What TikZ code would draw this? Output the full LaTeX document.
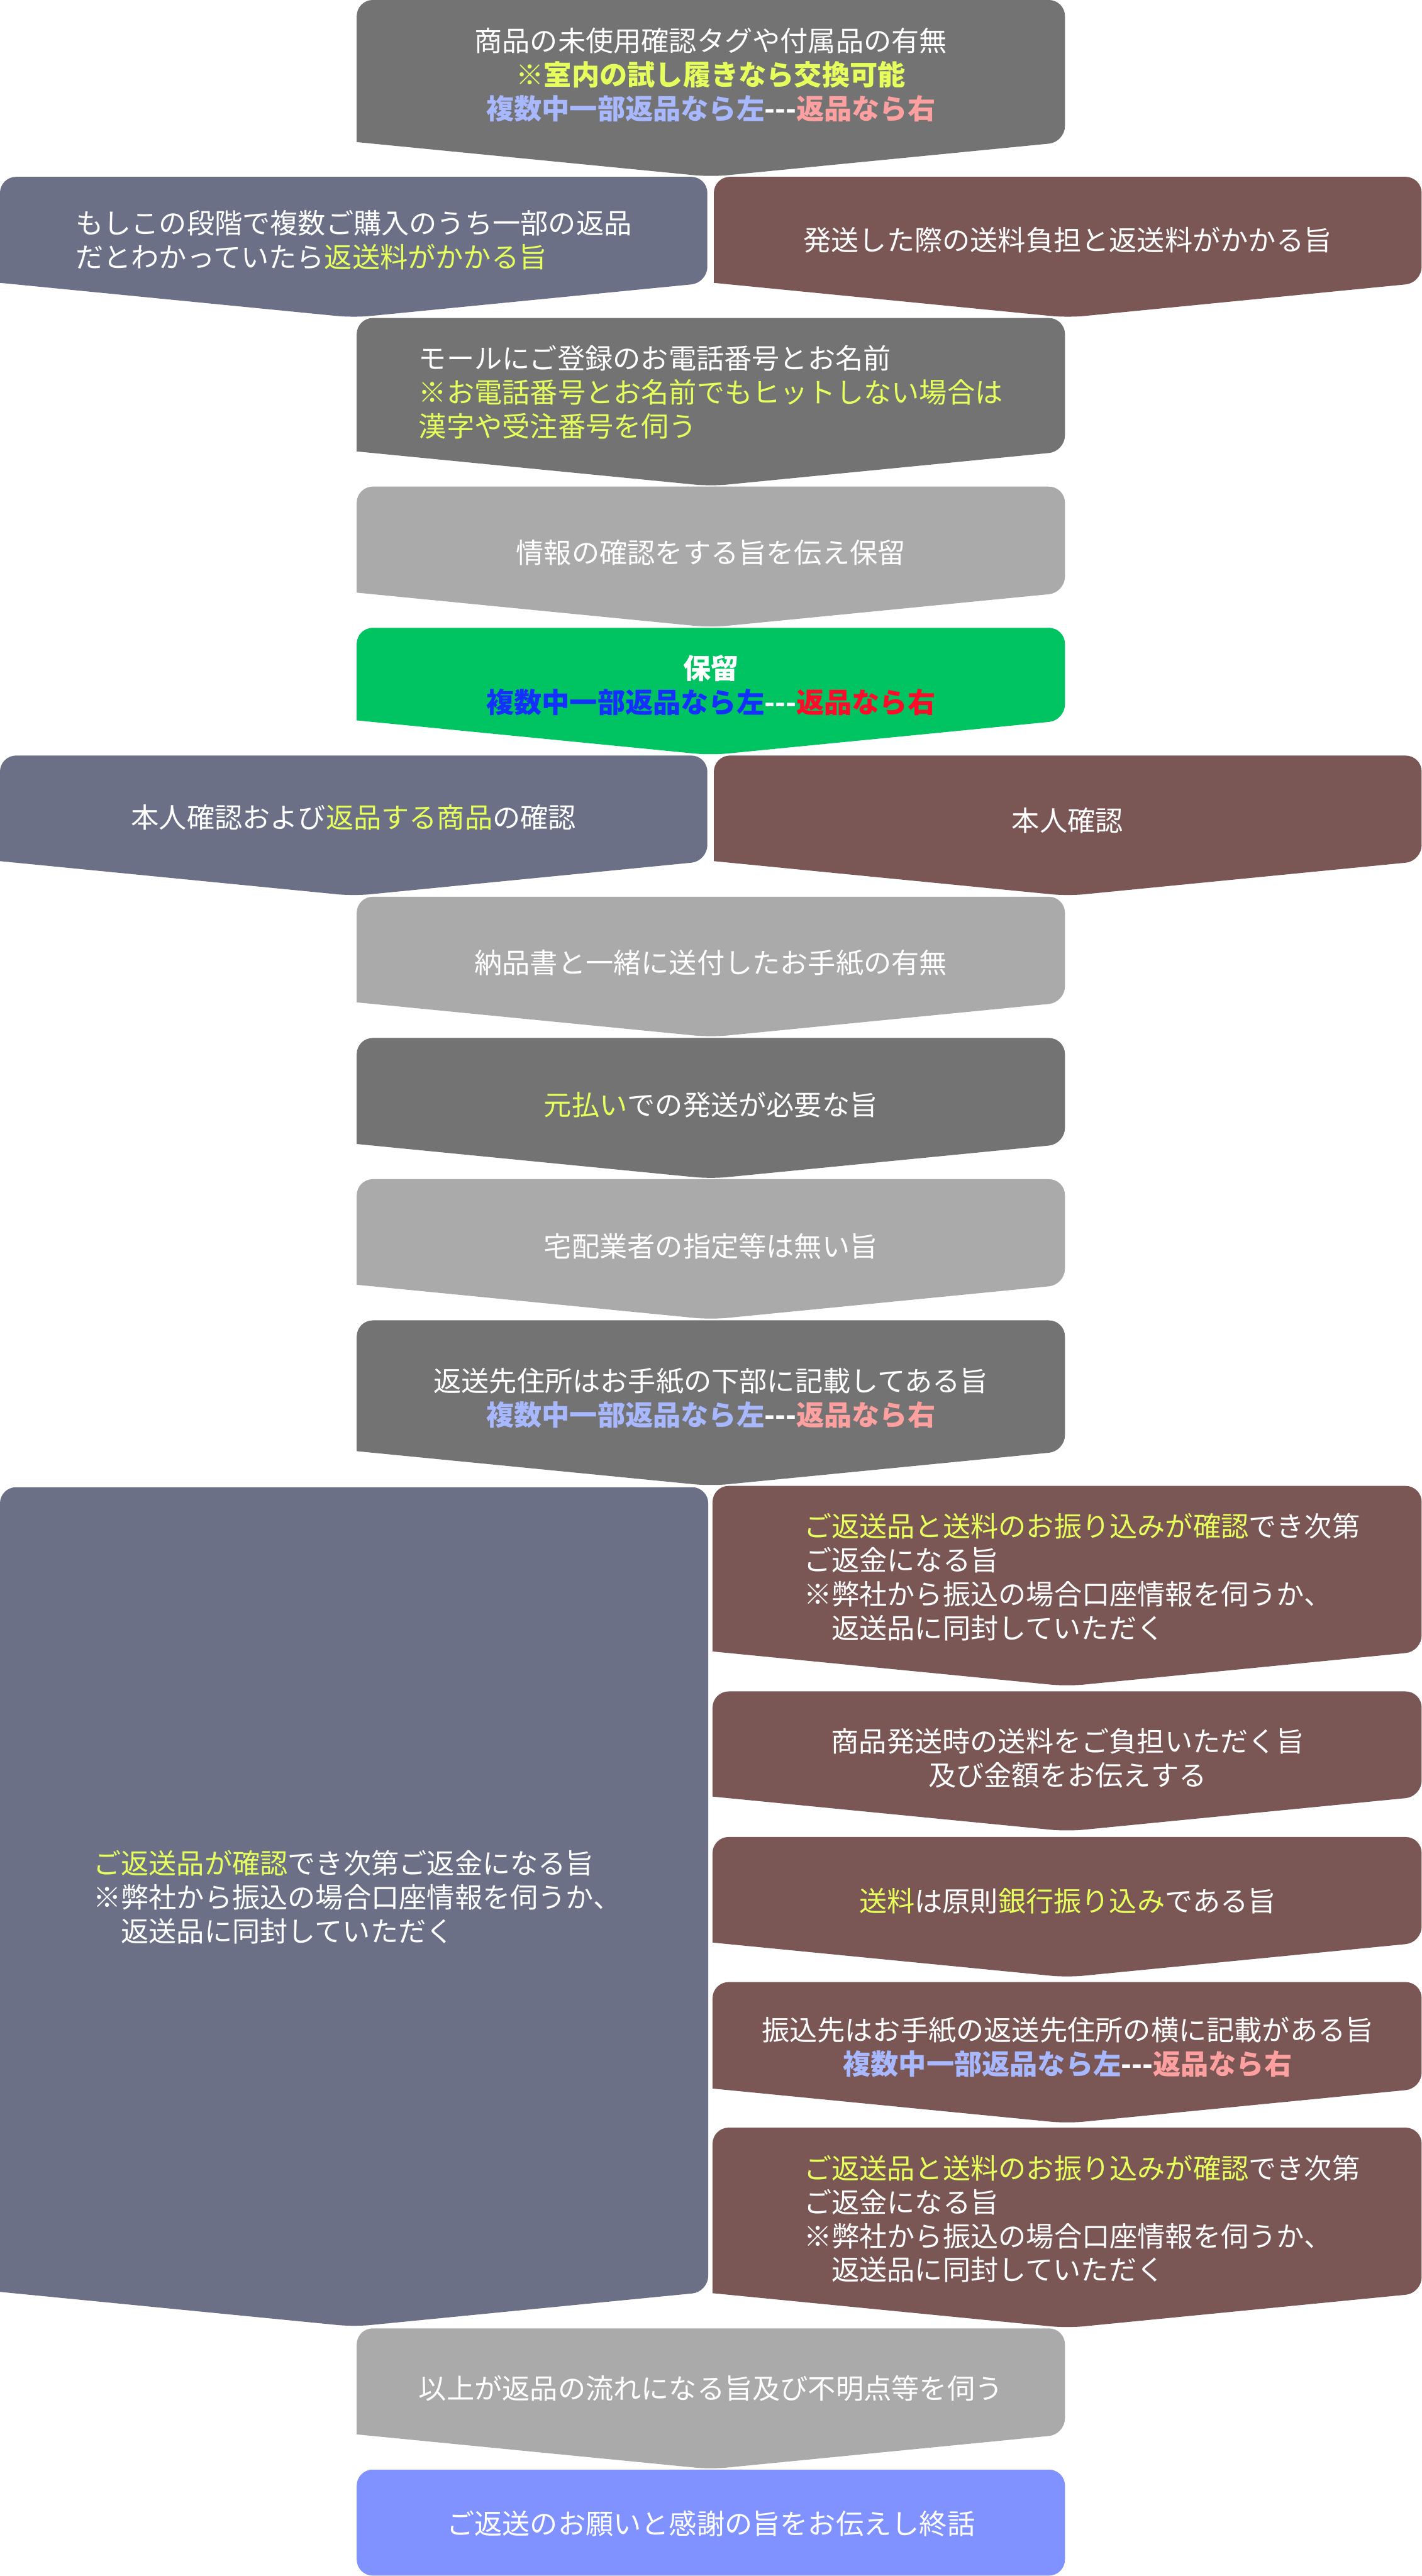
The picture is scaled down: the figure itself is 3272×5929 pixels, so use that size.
\documentclass[tikz,border=0pt]{standalone}
\usepackage{fontspec}
\newfontfamily\jpfont{Noto Sans CJK JP}
\definecolor{cDark}{HTML}{737373}
\definecolor{cLight}{HTML}{AAAAAA}
\definecolor{cSlate}{HTML}{6B7087}
\definecolor{cBrown}{HTML}{7A5655}
\definecolor{cGreen}{HTML}{00C462}
\definecolor{cBlue}{HTML}{7F92FF}
\definecolor{tYellow}{HTML}{E6FF5C}
\definecolor{tLBlue}{HTML}{A8B8FF}
\definecolor{tPink}{HTML}{FFA0A0}
\definecolor{tBlue}{HTML}{1430FF}
\definecolor{tRed}{HTML}{FF0A28}
\tikzset{
  txt/.style={text=white, font=\jpfont\fontsize{12.8pt}{15.6pt}\selectfont, align=center, inner sep=0pt},
  txtl/.style={txt, align=left},
}
% #1 fill, #2 x0, #3 x1, #4 top, #5 tip
\newcommand{\chevshape}[5]{%
  \fill[#1] ({(#2+#3)/2},#4) [rounded corners=7.4pt] -- (#3,#4) -- (#3,#5-80)
    -- ({(#2+#3)/2},#5) [sharp corners] -- (#2,#5-80) [rounded corners=7.4pt]
    -- (#2,#4) -- cycle;}
\newcommand{\lrline}{{\bfseries\textcolor{tLBlue}{複数中一部返品なら左}---\textcolor{tPink}{返品なら右}}}
\begin{document}
\begin{tikzpicture}[x=0.2pt,y=-0.2pt]
\useasboundingbox (0,0) rectangle (3272,5929);
% shapes
\chevshape{cDark}{821}{2451}{0}{407}
\chevshape{cSlate}{0}{1628}{407}{731}
\chevshape{cBrown}{1643}{3272}{407}{731}
\chevshape{cDark}{821}{2451}{732}{1119}
\chevshape{cLight}{821}{2451}{1120}{1444}
\chevshape{cGreen}{821}{2451}{1445}{1738}
\chevshape{cSlate}{0}{1628}{1739}{2062}
\chevshape{cBrown}{1643}{3272}{1739}{2062}
\chevshape{cLight}{821}{2451}{2064}{2387}
\chevshape{cDark}{821}{2451}{2389}{2713}
\chevshape{cLight}{821}{2451}{2714}{3037}
\chevshape{cDark}{821}{2451}{3039}{3420}
\chevshape{cSlate}{0}{1630}{3423}{5355}
\chevshape{cBrown}{1640}{3272}{3420}{3881}
\chevshape{cBrown}{1640}{3272}{3893}{4215}
\chevshape{cBrown}{1640}{3272}{4228}{4551}
\chevshape{cBrown}{1640}{3272}{4562}{4887}
\chevshape{cBrown}{1640}{3272}{4897}{5358}
\chevshape{cLight}{821}{2451}{5359}{5683}
\fill[cBlue, rounded corners=7.4pt] (821,5684) rectangle (2451,5928);
% texts
\node[txt] (nA) at (1636,172) {商品の未使用確認タグや付属品の有無\\
  {\bfseries\textcolor{tYellow}{※室内の試し履きなら交換可能}}\\ \lrline};
\node[txtl] (nB) at (814,553) {もしこの段階で複数ご購入のうち一部の返品\\
  だとわかっていたら\textcolor{tYellow}{返送料がかかる旨}};
\node[txt] (nC) at (2457,552) {発送した際の送料負担と返送料がかかる旨};
\node[txtl] (nD) at (1636,903) {モールにご登録のお電話番号とお名前\\
  \textcolor{tYellow}{※お電話番号とお名前でもヒットしない場合は}\\
  \textcolor{tYellow}{漢字や受注番号を伺う}};
\node[txt] (nE) at (1636,1272) {情報の確認をする旨を伝え保留};
\node[txt] (nF) at (1636,1577) {{\bfseries 保留}\\
  {\bfseries\textcolor{tBlue}{複数中一部返品なら左}---\textcolor{tRed}{返品なら右}}};
\node[txt] (nM) at (814,1882) {本人確認および\textcolor{tYellow}{返品する商品}の確認};
\node[txt] (nN) at (2457,1889) {本人確認};
\node[txt] (nG) at (1636,2217) {納品書と一緒に送付したお手紙の有無};
\node[txt] (nH) at (1636,2543) {\textcolor{tYellow}{元払い}での発送が必要な旨};
\node[txt] (nI) at (1636,2869) {宅配業者の指定等は無い旨};
\node[txt] (nJ) at (1636,3218) {返送先住所はお手紙の下部に記載してある旨\\ \lrline};
\node[txtl] (nO) at (822,4367) {\textcolor{tYellow}{ご返送品が確認}でき次第ご返金になる旨\\
  ※弊社から振込の場合口座情報を伺うか、\\
  　返送品に同封していただく};
\node[txtl] (nP1) at (2490,3630) {\textcolor{tYellow}{ご返送品と送料のお振り込みが確認}でき次第\\
  ご返金になる旨\\
  ※弊社から振込の場合口座情報を伺うか、\\
  　返送品に同封していただく};
\node[txt] (nP2) at (2457,4047) {商品発送時の送料をご負担いただく旨\\ 及び金額をお伝えする};
\node[txt] (nP3) at (2457,4375) {\textcolor{tYellow}{送料}は原則\textcolor{tYellow}{銀行振り込み}である旨};
\node[txt] (nP4) at (2457,4711) {振込先はお手紙の返送先住所の横に記載がある旨\\ \lrline};
\node[txtl] (nP5) at (2490,5107) {\textcolor{tYellow}{ご返送品と送料のお振り込みが確認}でき次第\\
  ご返金になる旨\\
  ※弊社から振込の場合口座情報を伺うか、\\
  　返送品に同封していただく};
\node[txt] (nK) at (1636,5497) {以上が返品の流れになる旨及び不明点等を伺う};
\node[txt] (nL) at (1636,5809) {ご返送のお願いと感謝の旨をお伝えし終話};
\end{tikzpicture}
\end{document}
